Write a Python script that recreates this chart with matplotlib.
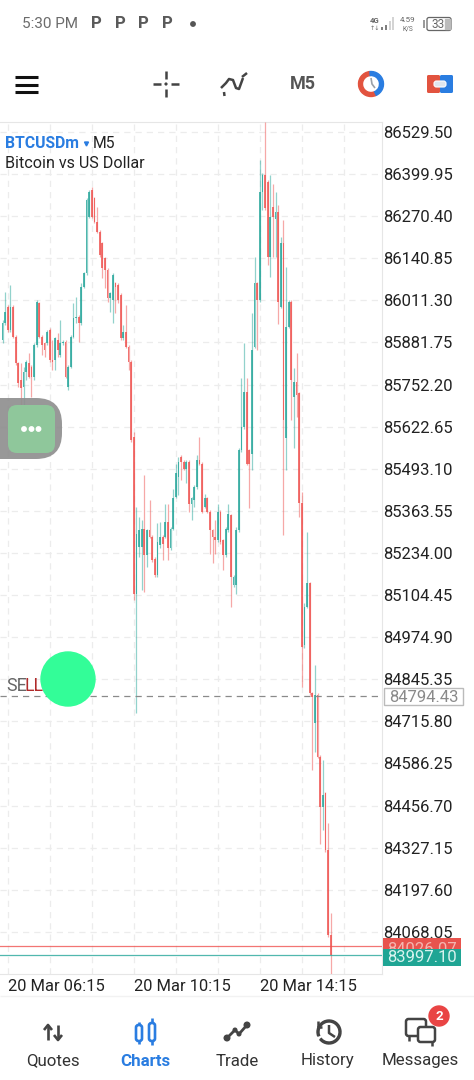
import matplotlib
matplotlib.use('Agg')
import matplotlib.pyplot as plt
from matplotlib.patches import Circle, FancyBboxPatch, Rectangle, Wedge, Polygon
import numpy as np

plt.rcParams['font.family'] = ['Roboto', 'DejaVu Sans']

# candles, 5 minute bars, first one is two bars before 06:15
opens = [85890, 85941, 85992, 85920, 85992, 85900, 85818, 85766, 85746, 85792,
         85818, 85807, 85777, 85874, 86002, 85900, 85879, 85879, 85920, 85828,
         85828, 85890, 85843, 85879, 85884, 85746, 85807, 85900, 85956, 85961,
         85941, 86054, 86095, 86269, 86351, 86326, 86254, 86223, 86187, 86141,
         86105, 86018, 86013, 86064, 86059, 86028, 85895, 85915, 85869, 85823,
         85592, 85109, 85253, 85253, 85309, 85227, 85306, 85284, 85217, 85166,
         85258, 85284, 85284, 85330, 85248, 85309, 85407, 85468, 85530, 85515,
         85494, 85515, 85386, 85397, 85438, 85520, 85509, 85376, 85402, 85361,
         85304, 85284, 85273, 85361, 85273, 85227, 85304, 85350, 85135, 85135,
         85304, 85550, 85622, 85730, 85550, 85540, 85869, 86064, 86012, 86345,
         86397, 86376, 86146, 86300, 86263, 86284, 85992, 86188, 85587, 85930,
         86007, 85715, 85761, 85725, 85387, 84951, 85069, 85141, 84802, 84710,
         84797, 84607, 84453, 84494, 84320, 84058]
highs = [85951, 86038, 85997, 86059, 85997, 85905, 85823, 85818, 85807, 85828,
         85848, 85812, 85879, 86012, 86007, 85905, 85884, 85920, 85925, 85890,
         85900, 85910, 85951, 85890, 85890, 85812, 85905, 86002, 86023, 85966,
         86064, 86100, 86326, 86351, 86359, 86331, 86300, 86228, 86192, 86146,
         86110, 86038, 86095, 86069, 86064, 86033, 85936, 85997, 85874, 85828,
         85607, 85376, 85345, 85335, 85474, 85309, 85397, 85289, 85222, 85325,
         85330, 85289, 85386, 85386, 85314, 85432, 85509, 85530, 85535, 85520,
         85520, 85520, 85407, 85443, 85535, 85592, 85514, 85417, 85407, 85366,
         85309, 85335, 85386, 85366, 85278, 85314, 85386, 85355, 85166, 85314,
         85556, 85771, 85879, 85771, 85555, 85971, 86146, 86069, 86443, 86402,
         86561, 86381, 86397, 86371, 86345, 86304, 86207, 86258, 86115, 86012,
         86012, 85802, 85848, 85730, 85423, 85079, 85300, 85146, 84807, 84889,
         84802, 84612, 84597, 84499, 84402, 84125]
lows = [85879, 85936, 85915, 85915, 85895, 85813, 85746, 85659, 85684, 85766,
        85772, 85715, 85766, 85869, 85895, 85843, 85838, 85874, 85823, 85797,
        85797, 85838, 85838, 85874, 85772, 85736, 85802, 85895, 85941, 85884,
        85936, 86049, 86090, 86264, 86264, 86249, 86218, 86146, 86079, 86049,
        86007, 85977, 85941, 85972, 86002, 85890, 85890, 85864, 85797, 85575,
        85089, 84741, 85222, 85119, 85114, 85191, 85279, 85207, 85161, 85161,
        85248, 85212, 85279, 85212, 85243, 85304, 85402, 85412, 85458, 85489,
        85448, 85361, 85335, 85376, 85432, 85504, 85356, 85371, 85356, 85232,
        85202, 85232, 85268, 85263, 85181, 85222, 85299, 85068, 85130, 85109,
        85299, 85545, 85617, 85504, 85371, 85489, 85864, 85858, 86007, 86289,
        86290, 86120, 86084, 86146, 86146, 85940, 85987, 85290, 85490, 85925,
        85643, 85556, 85654, 85346, 84823, 84941, 85064, 84797, 84566, 84622,
        84602, 84340, 84381, 84315, 84053, 83940]
closes = [85941, 85977, 85920, 85992, 85900, 85818, 85756, 85741, 85792, 85823,
          85777, 85777, 85874, 86007, 85900, 85874, 85859, 85915, 85828, 85823,
          85895, 85859, 85879, 85884, 85777, 85807, 85900, 85956, 85961, 85941,
          86054, 86095, 86320, 86346, 86269, 86254, 86223, 86151, 86110, 86105,
          86018, 86033, 86090, 86054, 86013, 85895, 85915, 85869, 85823, 85581,
          85109, 85294, 85304, 85309, 85227, 85304, 85284, 85212, 85166, 85268,
          85284, 85263, 85330, 85248, 85309, 85402, 85479, 85515, 85515, 85494,
          85515, 85386, 85402, 85438, 85520, 85509, 85361, 85402, 85361, 85304,
          85284, 85273, 85361, 85268, 85227, 85309, 85355, 85161, 85161, 85304,
          85550, 85622, 85730, 85509, 85509, 85860, 86064, 86012, 86345, 86397,
          86295, 86146, 86268, 86268, 86284, 86007, 86188, 85643, 85930, 86007,
          85766, 85761, 85720, 85387, 84946, 85069, 85141, 84802, 84790, 84797,
          84607, 84453, 84489, 84320, 84058, 83997]

price_labels = ['86529.50', '86399.95', '86270.40', '86140.85', '86011.30',
                '85881.75', '85752.20', '85622.65', '85493.10', '85363.55',
                '85234.00', '85104.45', '84974.90', '84845.35', '84715.80',
                '84586.25', '84456.70', '84327.15', '84197.60', '84068.05']
price_ticks = [float(p) for p in price_labels]
time_ticks = [0, 48, 96]
time_labels = ['20 Mar 06:15', '20 Mar 10:15', '20 Mar 14:15']

ask_price = 84026.07
bid_price = 83997.10
sell_price = 84794.43

TEAL = '#26a69a'
RED = '#ef5350'
BLUE = '#2a7de1'
W, H = 474, 1080

fig = plt.figure(figsize=(W / 100, H / 100), dpi=100)

# chart area in pixels: x 0-382, y 122-974
ax = fig.add_axes([0, 1 - 974 / H, 382 / W, (974 - 122) / H], zorder=1)
step_px = 42.1
per_px = (price_ticks[0] - price_ticks[1]) / step_px
ax.set_ylim(price_ticks[0] - (974 - 132) * per_px, price_ticks[0] + 10 * per_px)
x_per_px = 1 / 2.625
ax.set_xlim(-7.8 * x_per_px, (382 - 7.8) * x_per_px)

idx = np.arange(len(opens)) - 2
for i, o, h, l, c in zip(idx, opens, highs, lows, closes):
    col = TEAL if c >= o else RED
    ax.vlines(i, l, h, color=col, lw=0.9, alpha=0.5, zorder=3)
    ax.bar(i, abs(c - o), bottom=min(o, c), width=0.7, color=col, lw=0, alpha=0.8, zorder=4)

ax.axhline(ask_price, color=RED, lw=0.9, alpha=0.8, zorder=5)
ax.axhline(bid_price, color=TEAL, lw=0.9, alpha=0.8, zorder=5)
ax.axhline(sell_price, color='#8a8a8a', lw=0.9, ls=(0, (5, 4)), zorder=5)

ax.set_yticks(price_ticks)
ax.set_yticklabels(price_labels)
ax.yaxis.tick_right()
ax.tick_params(axis='y', length=0, pad=1.0, labelsize=12, labelcolor='#222222')
ax.set_xticks(np.arange(0, 144, 16))
ax.set_xticklabels([time_labels[time_ticks.index(t)] if t in time_ticks else '' for t in range(0, 144, 16)],
                   ha='left')
ax.tick_params(axis='x', length=0, pad=3.5, labelsize=11.9, labelcolor='#222222')
ax.grid(True, color='#ececec', lw=0.9, ls=(0, (5, 4)), zorder=0)
ax.set_axisbelow(True)
ax.spines['left'].set_visible(False)
for s in ['top', 'right', 'bottom']:
    ax.spines[s].set_color('#e6e6e6')

# everything around the chart is drawn in pixel coordinates
ui = fig.add_axes([0, 0, 1, 1], zorder=2)
ui.set_xlim(0, W)
ui.set_ylim(H, 0)
ui.axis('off')
ui.patch.set_alpha(0)


def label(x, y, s, size=11.5, color='#222222', ha='left', weight='normal', **kw):
    ui.text(x, y, s, fontsize=size, color=color, ha=ha, va='center', fontweight=weight, **kw)


def seg(xs, ys, color='#444444', lw=2.0, **kw):
    ui.plot(xs, ys, color=color, lw=lw, solid_capstyle='butt', **kw)


# status bar
label(22, 24.5, '5:30 PM', size=11, color='#6b6b6b')
for x in [96, 120, 143, 167]:
    label(x, 24, 'P', size=12, color='#5a5a5a', ha='center', weight='bold')
ui.add_patch(Circle((193, 24), 2.2, color='#555555'))
label(375, 20.5, '4G', size=5.6, color='#666666', ha='center', weight='bold')
label(375, 28, '↑↓', size=4.5, color='#666666', ha='center')
for x, top, c in [(382, 27, '#666666'), (386, 25, '#666666'), (390, 21, '#cccccc'), (393, 17, '#cccccc')]:
    seg([x, x], [top, 30], color=c, lw=1.2)
label(408, 20.5, '4.59', size=5.8, color='#666666', ha='center')
label(408, 29, 'K/S', size=4.8, color='#666666', ha='center')
ui.add_patch(FancyBboxPatch((427, 17.5), 24, 13, boxstyle='round,pad=0,rounding_size=2',
                            fc='none', ec='#666666', lw=0.9))
ui.add_patch(Rectangle((445, 19), 5, 10, color='#bbbbbb'))
seg([424.5, 424.5], [20, 28], color='#888888', lw=1.2)
label(438, 24.5, '33', size=8.5, color='#666666', ha='center')

# toolbar
for y in [77, 84.5, 92]:
    seg([15, 38], [y, y], color='#111111', lw=2.2)
seg([153, 161], [84, 84], lw=1.8)
seg([171, 179], [84, 84], lw=1.8)
seg([166, 166], [71, 79], lw=1.8)
seg([166, 166], [89, 97], lw=1.8)
ui.add_patch(Circle((166, 84), 0.9, color='#444444'))
seg([221, 226, 229, 233, 236, 239, 243], [88, 83, 79, 80, 88, 89, 78], lw=1.8)
seg([224, 224.5], [92, 96], lw=1.8)
seg([242, 247], [77, 73], lw=1.8)
label(303, 84, 'M5', size=13, color='#555555', ha='center', weight='bold')
ui.add_patch(Wedge((371, 84), 12.5, 65, 265, width=4, color='#e2533f'))
ui.add_patch(Wedge((371, 84), 12.5, 265, 65, width=4, color='#2a7de1'))
seg([371, 372, 375], [78, 84, 88], color='#9aa0a8', lw=1.2)
ui.add_patch(FancyBboxPatch((427, 75), 13, 18, boxstyle='round,pad=0,rounding_size=1.5', color='#e2533f', lw=0))
ui.add_patch(FancyBboxPatch((440, 75), 13, 18, boxstyle='round,pad=0,rounding_size=1.5', color='#2a7de1', lw=0))
ui.add_patch(FancyBboxPatch((434, 81), 12, 6, boxstyle='round,pad=0,rounding_size=2.5',
                            fc='#dfe6ee', ec='white', lw=0.8))

# symbol title
label(5, 143.5, 'BTCUSDm', size=11.3, color=BLUE, weight='bold')
ui.add_patch(Polygon([[84.5, 142], [88.5, 142], [86.5, 146]], color=BLUE))
label(93, 143.5, 'M5', size=11.3, color='#222222')
label(5, 163, 'Bitcoin vs US Dollar', size=11.6, color='#222222')

# floating button and sell marker
ui.add_patch(FancyBboxPatch((-40, 398), 102, 61, boxstyle='round,pad=0,rounding_size=26',
                            fc='#8f8f8f', ec='none', alpha=0.92))
ui.add_patch(FancyBboxPatch((8, 405), 47, 48, boxstyle='round,pad=0,rounding_size=9', fc='#8fc79b', ec='none'))
for x in [24, 31.5, 38.5]:
    ui.add_patch(Circle((x, 429), 2.2, color='white'))
label(6, 686, 'SE', size=12.8, color='#666666')
label(24.5, 686, 'LL', size=12.8, color='#b02a2a')
ui.add_patch(Circle((68, 679), 27, color='#33fd98'))

# price boxes on the axis, the bid box sits over the ask box
ui.add_patch(Rectangle((384, 688), 79, 17, fc='white', ec='#bbbbbb', lw=1))
label(423.5, 697, f'{sell_price:.2f}', size=12, color='#8a8a8a', ha='center')
ui.add_patch(Rectangle((383, 938), 78, 12, fc='#e8534d', ec='none', zorder=3))
label(422, 949, f'{ask_price:.2f}', size=12, color='#f4b5b0', ha='center', zorder=4)
ui.add_patch(Rectangle((383, 949), 78, 16.5, fc='#1fa594', ec='none', zorder=5))
label(422, 957, f'{bid_price:.2f}', size=12, color='#d8f3ef', ha='center', zorder=6)

# bottom navigation
seg([0, W], [995.5, 995.5], color='#f2f2f2', lw=1)
nav = [(53, 'Quotes', '#333333', 'normal'), (145, 'Charts', BLUE, 'bold'), (237, 'Trade', '#333333', 'normal'),
       (328, 'History', '#333333', 'normal'), (420, 'Messages', '#333333', 'normal')]
for x, name, col, wt in nav:
    label(x, 1061, name, size=12.2, color=col, ha='center', weight=wt)

c = '#444444'
seg([48, 48], [1026, 1040], color=c, lw=1.9)
seg([44, 48, 52], [1030, 1025, 1030], color=c, lw=1.9)
seg([58, 58], [1025, 1039], color=c, lw=1.9)
seg([54, 58, 62], [1035, 1040, 1035], color=c, lw=1.9)

for x, top, bot, wtop, wbot in [(139, 1025, 1041, 1022, 1044), (152, 1023, 1041, 1018, 1045)]:
    ui.add_patch(FancyBboxPatch((x - 3, top), 6, bot - top, boxstyle='round,pad=0,rounding_size=2.5',
                                fc='none', ec=BLUE, lw=1.9))
    seg([x, x], [wtop, top], color=BLUE, lw=1.9)
    seg([x, x], [bot, wbot], color=BLUE, lw=1.9)

trade_x = [227, 235, 239, 247]
trade_y = [1038, 1030, 1034, 1025]
seg(trade_x, trade_y, color=c, lw=2)
for x, y in zip(trade_x, trade_y):
    ui.add_patch(Circle((x, y), 2.8 if x in (227, 247) else 1.8, color=c))

ui.add_patch(Wedge((329, 1032), 12, -200, 140, width=2, color=c))
seg([317, 322], [1027, 1027], color=c, lw=1.8)
seg([318, 318], [1021, 1027], color=c, lw=1.8)
seg([329, 329, 335], [1025, 1033, 1037], color=c, lw=1.8)

ui.add_patch(FancyBboxPatch((406, 1019), 20, 17, boxstyle='round,pad=0,rounding_size=2.5',
                            fc='white', ec=c, lw=1.8))
seg([409, 409], [1036, 1041], color=c, lw=1.8)
ui.add_patch(FancyBboxPatch((418, 1027), 17, 15, boxstyle='round,pad=0,rounding_size=2.5',
                            fc='white', ec=c, lw=1.8, zorder=3))
seg([432, 432], [1042, 1046], color=c, lw=1.8, zorder=3)
ui.add_patch(Circle((439, 1016), 10, color='#e94444', zorder=4))
ui.text(439, 1016, '2', color='white', fontsize=9.5, fontweight='bold', ha='center', va='center', zorder=5)

plt.savefig('out.png', dpi=100)
